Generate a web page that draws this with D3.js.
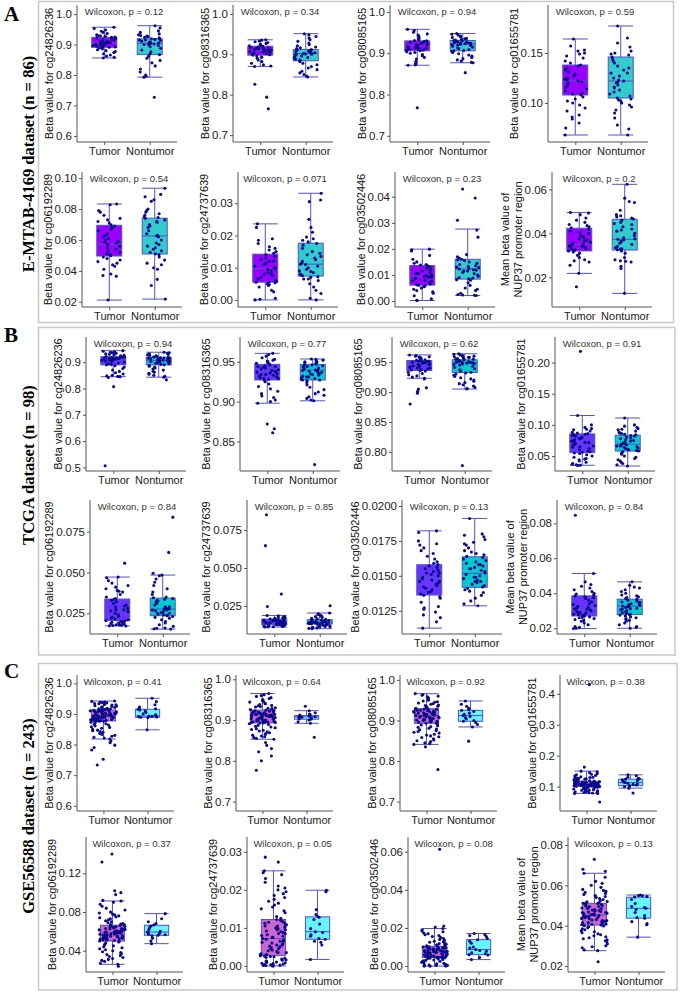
<!DOCTYPE html>
<html><head><meta charset="utf-8">
<script src="https://cdn.jsdelivr.net/npm/d3@7"></script>
<style>body{margin:0;background:#fff} svg{display:block}</style>
</head><body><div id="chart"></div>
<script>
// ---- data ----
const groups = ["Tumor", "Nontumor"];
const probes = ["cg24826236","cg08316365","cg08085165","cg01655781","cg06192289","cg24737639","cg03502446","NUP37"];
const secLetters = ["A", "B", "C"];
const secTitles = ["E-MTAB-4169 dataset (n = 86)", "TCGA dataset (n = 98)", "GSE56588 dataset (n = 243)"];

const pA = ["0.12","0.34","0.94","0.59","0.54","0.071","0.23","0.2"];
const pB = ["0.94","0.77","0.62","0.91","0.84","0.85","0.13","0.84"];
const pC = ["0.41","0.64","0.92","0.38","0.37","0.05","0.08","0.13"];

const domA = [[0.580,1.030],[0.683,1.022],[0.685,1.017],[0.061,0.198],[0.0166,0.104],[-0.0022,0.0397],[-0.0023,0.0495],[0.0065,0.0679]];
const domB = [[0.486,0.996],[0.813,0.981],[0.768,0.992],[0.026,0.241],[0.0123,0.0944],[0.0066,0.0947],[0.01083,0.02043],[0.0167,0.0933]];
const domC = [[0.583,1.027],[0.677,1.0105],[0.677,1.012],[0.021,0.461],[0.018,0.1575],[-0.0016,0.0339],[-0.0031,0.0677],[0.017,0.084]];

const ticksA = [["0.6","0.7","0.8","0.9","1.0"],["0.7","0.8","0.9","1.0"],["0.7","0.8","0.9","1.0"],["0.10","0.15"],
  ["0.02","0.04","0.06","0.08","0.10"],["0.00","0.01","0.02","0.03"],["0.00","0.01","0.02","0.03","0.04"],["0.02","0.04","0.06"]];
const ticksB = [["0.5","0.6","0.7","0.8","0.9"],["0.85","0.90","0.95"],["0.80","0.85","0.90","0.95"],["0.05","0.10","0.15","0.20"],
  ["0.025","0.050","0.075"],["0.025","0.050","0.075"],["0.0125","0.0150","0.0175","0.0200"],["0.02","0.04","0.06","0.08"]];
const ticksC = [["0.6","0.7","0.8","0.9","1.0"],["0.7","0.8","0.9","1.0"],["0.7","0.8","0.9","1.0"],["0.1","0.2","0.3","0.4"],
  ["0.04","0.08","0.12"],["0.00","0.01","0.02","0.03"],["0.00","0.02","0.04","0.06"],["0.02","0.04","0.06","0.08"]];

// box stats: [lower whisker, q1, median, q3, upper whisker]
const boxA_T = [[.856,.891,.906,.924,.957],[.870,.898,.909,.920,.936],[.871,.906,.918,.930,.958],[.068,.108,.122,.138,.164],
  [.0211,.0496,.0572,.0695,.0833],[0,.0055,.0098,.0142,.0236],[.0002,.0061,.0096,.0136,.0199],[.0218,.032,.035,.0423,.0495]];
const boxA_N = [[.793,.867,.904,.919,.962],[.844,.884,.902,.912,.951],[.877,.906,.922,.931,.948],[.068,.105,.122,.146,.177],
  [.0217,.0509,.0626,.0741,.0935],[0,.0074,.0111,.0176,.0331],[.0021,.0084,.0123,.016,.0276],[.0127,.0324,.0373,.0464,.0623]];
const boxB_T = [[.845,.890,.911,.921,.944],[.898,.9271,.9375,.9467,.9605],[.923,.936,.9455,.9527,.962],[.0352,.0555,.0716,.0855,.115],
  [.0173,.0206,.0271,.0337,.0472],[.0112,.0127,.0142,.0164,.0188],[.01125,.01362,.01489,.01579,.01822],[.0198,.027,.0309,.0385,.0513]];
const boxB_N = [[.843,.890,.906,.919,.938],[.901,.9271,.9396,.9467,.9534],[.905,.9326,.9494,.954,.964],[.034,.058,.069,.0834,.111],
  [.0153,.0235,.0276,.0343,.0484],[.0101,.0132,.0142,.016,.0204],[.01285,.01417,.01517,.01636,.01911],[.02,.0278,.0327,.0366,.0465]];
const boxC_T = [[.818,.877,.893,.913,.942],[.853,.893,.912,.9245,.965],[.841,.893,.912,.929,.966],[.078,.100,.108,.117,.150],
  [.0259,.050,.0587,.0663,.0914],[0,.0027,.0072,.0122,.025],[0,.0045,.0074,.0104,.0197],[.0276,.0403,.0453,.0511,.066]];
const boxC_N = [[.848,.889,.893,.915,.951],[.892,.902,.908,.911,.923],[.884,.898,.912,.925,.948],[.095,.103,.113,.124,.138],
  [.0473,.0559,.0593,.0663,.0783],[.0017,.007,.009,.0129,.0199],[.0034,.006,.0087,.0139,.0171],[.0343,.0437,.0486,.0541,.0552]];

const ptsA_T = [
  [.957,.953,.948,.944,.94,.936,.932,.929,.927,.925,.924,.922,.92,.918,.917,.915,.913,.911,.909,.907,.906,.905,.903,.901,.9,.898,.897,.895,.893,.892,.891,.889,.886,.883,.88,.877,.874,.87,.866,.862,.858,.856,.93],
  [.936,.935,.933,.931,.929,.927,.925,.923,.922,.921,.92,.919,.918,.916,.915,.913,.912,.911,.91,.909,.908,.907,.906,.905,.904,.902,.9,.899,.898,.896,.893,.89,.886,.882,.878,.874,.871,.87,.826,.794,.765,.914,.917],
  [.958,.955,.951,.947,.944,.941,.938,.935,.933,.931,.93,.929,.927,.926,.924,.923,.921,.92,.919,.918,.917,.916,.915,.913,.912,.911,.91,.909,.908,.907,.906,.904,.902,.9,.897,.894,.89,.886,.88,.875,.872,.871,.768],
  [.164,.157,.153,.152,.15,.149,.147,.145,.142,.14,.138,.137,.135,.133,.131,.129,.127,.125,.124,.123,.122,.121,.12,.118,.116,.114,.112,.11,.109,.108,.106,.104,.102,.1,.098,.095,.092,.088,.086,.084,.08,.075,.068],
  [.0833,.0828,.079,.078,.076,.074,.073,.072,.071,.0698,.069,.068,.066,.064,.063,.062,.061,.06,.059,.058,.0572,.056,.055,.054,.053,.052,.051,.0505,.0498,.049,.048,.047,.046,.045,.044,.043,.041,.038,.037,.0365,.0211,.067,.0585],
  [.0236,.0225,.019,.0185,.0175,.0165,.016,.0155,.015,.0145,.014,.0135,.013,.0125,.012,.0115,.011,.0105,.01,.0098,.0095,.009,.0085,.008,.0075,.007,.0065,.006,.0058,.0055,.0053,.005,.0048,.0045,.004,.003,.0025,.0005,.0002,0,.012,.008,.0055],
  [.0199,.0196,.0192,.0175,.016,.015,.0145,.014,.0138,.0135,.013,.0125,.012,.0115,.011,.0105,.01,.0098,.0096,.0094,.009,.0088,.0085,.008,.0078,.0075,.007,.0065,.0062,.006,.0058,.0055,.005,.0045,.004,.0035,.003,.002,.0008,.0002,.0003,.0092,.0105],
  [.0495,.0492,.0485,.047,.046,.045,.044,.0435,.043,.0425,.042,.041,.0405,.04,.039,.038,.037,.0365,.036,.0355,.035,.0347,.0343,.034,.0335,.033,.0328,.0325,.0322,.032,.0315,.031,.03,.029,.028,.0275,.027,.0255,.0218,.0157,.0375,.0385,.0338]
];
const ptsA_N = [
  [.962,.955,.945,.94,.935,.932,.93,.928,.926,.924,.922,.92,.919,.917,.915,.913,.911,.909,.907,.905,.904,.902,.9,.897,.893,.888,.882,.876,.87,.867,.862,.855,.848,.84,.83,.82,.81,.8,.796,.793,.727,.9,.915],
  [.951,.948,.944,.94,.936,.932,.928,.924,.921,.918,.916,.914,.912,.911,.91,.908,.907,.905,.904,.903,.902,.901,.9,.898,.896,.894,.892,.89,.888,.886,.884,.882,.878,.874,.87,.866,.862,.858,.854,.85,.846,.844,.9],
  [.948,.946,.944,.942,.94,.938,.936,.934,.932,.931,.93,.929,.928,.927,.926,.925,.924,.923,.922,.921,.92,.919,.917,.915,.913,.911,.909,.907,.906,.904,.902,.899,.896,.893,.89,.887,.884,.881,.878,.877,.853,.935,.925],
  [.177,.165,.16,.156,.152,.15,.149,.148,.146,.144,.14,.137,.135,.133,.13,.127,.125,.123,.122,.121,.12,.118,.116,.113,.111,.109,.107,.105,.104,.103,.102,.1,.098,.096,.093,.09,.085,.078,.074,.068,.13,.142,.115],
  [.0935,.0895,.088,.086,.085,.08,.079,.078,.077,.076,.075,.0745,.074,.073,.072,.07,.069,.068,.066,.064,.063,.0626,.062,.06,.058,.057,.056,.055,.054,.053,.052,.051,.0505,.049,.047,.045,.044,.042,.041,.0345,.0305,.0217,.0715],
  [.0331,.031,.0305,.025,.0225,.021,.0195,.019,.0185,.018,.0175,.017,.016,.015,.0145,.014,.013,.0125,.012,.0115,.0111,.011,.0105,.01,.0095,.009,.0085,.008,.0078,.0075,.0072,.007,.0065,.006,.005,.004,.003,.002,.0005,0,.0135,.0088,.0065],
  [.043,.0395,.031,.0272,.0245,.0178,.017,.0165,.016,.0158,.0155,.015,.0145,.014,.0135,.013,.0128,.0125,.0123,.012,.0118,.0115,.011,.0105,.01,.0095,.009,.0088,.0085,.0082,.008,.007,.006,.005,.0045,.004,.003,.0025,.0023,.0021,.0022,.0133,.0115],
  [.0623,.056,.0545,.054,.0505,.0485,.048,.0475,.047,.0465,.046,.045,.044,.043,.042,.041,.04,.039,.038,.0375,.0373,.037,.0365,.036,.035,.034,.0335,.033,.0328,.0325,.032,.031,.029,.028,.0275,.0273,.027,.025,.024,.0127,.0415,.0355,.0445]
];
const ptsB_T = [
  [.944,.942,.94,.938,.936,.934,.932,.93,.928,.926,.924,.922,.921,.92,.919,.918,.917,.916,.915,.914,.913,.912,.911,.91,.909,.908,.907,.905,.903,.9,.897,.894,.891,.89,.887,.882,.876,.87,.865,.86,.855,.85,.848,.846,.845,.842,.807,.506,.915],
  [.9605,.959,.957,.955,.953,.952,.951,.95,.949,.948,.947,.946,.945,.944,.943,.942,.941,.94,.939,.938,.9375,.937,.936,.935,.934,.933,.932,.931,.93,.929,.928,.927,.925,.922,.919,.916,.913,.91,.907,.905,.902,.9,.898,.872,.866,.861,.944,.934,.929],
  [.962,.961,.96,.959,.958,.957,.956,.955,.954,.953,.952,.951,.95,.949,.948,.947,.946,.9455,.945,.944,.943,.942,.941,.94,.939,.938,.937,.936,.935,.933,.931,.929,.927,.925,.923,.922,.907,.905,.902,.9,.898,.88,.958,.952,.948,.944,.94,.95,.954],
  [.218,.115,.1,.096,.094,.093,.092,.09,.088,.087,.086,.085,.084,.083,.082,.08,.078,.076,.074,.073,.072,.0716,.07,.069,.068,.066,.064,.062,.06,.058,.057,.056,.055,.054,.052,.05,.048,.046,.044,.042,.04,.038,.037,.036,.0352,.035,.078,.065,.045],
  [.0557,.0472,.0468,.045,.0435,.042,.041,.04,.039,.0385,.038,.0365,.035,.034,.0335,.033,.032,.031,.03,.0295,.029,.028,.0275,.0271,.027,.026,.025,.024,.023,.022,.0215,.021,.0205,.0203,.02,.0198,.0195,.019,.0188,.0185,.018,.0178,.0175,.0173,.0172,.0176,.0182,.0225,.0265],
  [.085,.0647,.0329,.0247,.0188,.0185,.018,.0178,.0175,.0172,.017,.0168,.0166,.0164,.0162,.016,.0158,.0156,.0154,.0152,.015,.0148,.0146,.0144,.0142,.014,.0138,.0136,.0134,.0132,.013,.0129,.0128,.0127,.0126,.0125,.0124,.0122,.012,.0118,.0116,.0114,.0112,.0113,.0115,.0139,.0145,.0151,.0131],
  [.01822,.0181,.0175,.0173,.0172,.017,.0168,.0166,.0164,.0162,.016,.0159,.0158,.0157,.0156,.0155,.0154,.0153,.0152,.0151,.015,.0149,.0148,.0147,.0146,.0145,.0144,.0143,.0142,.0141,.014,.0139,.0138,.0137,.0136,.0135,.0134,.0131,.0128,.0127,.0126,.0124,.0122,.012,.0117,.01125,.0152,.0146,.0138],
  [.0846,.0513,.0465,.045,.044,.043,.042,.041,.04,.0395,.039,.0385,.038,.0375,.037,.036,.035,.034,.033,.0325,.032,.0315,.031,.0309,.0305,.03,.0295,.029,.0285,.028,.0278,.0275,.0272,.027,.0265,.026,.0255,.025,.0245,.024,.023,.022,.021,.0205,.02,.0198,.0335,.0288,.0262]
];
const ptsB_N = [
  [.938,.936,.934,.932,.93,.928,.926,.924,.922,.92,.919,.918,.917,.916,.915,.914,.913,.912,.911,.91,.909,.908,.907,.906,.905,.904,.903,.902,.901,.9,.898,.896,.894,.892,.89,.888,.885,.882,.878,.874,.87,.866,.862,.858,.854,.85,.846,.843,.833],
  [.9534,.953,.952,.951,.95,.949,.948,.947,.946,.945,.944,.943,.942,.941,.94,.9396,.939,.938,.937,.936,.935,.934,.933,.932,.931,.93,.929,.928,.927,.926,.924,.921,.918,.915,.912,.91,.908,.906,.904,.902,.901,.821,.944,.938,.931,.927,.95,.946,.935],
  [.964,.963,.962,.961,.96,.959,.958,.957,.956,.955,.954,.953,.952,.951,.95,.9494,.949,.948,.947,.946,.945,.943,.941,.939,.937,.935,.933,.932,.93,.928,.926,.924,.922,.92,.918,.916,.914,.912,.91,.908,.906,.905,.777,.958,.955,.952,.95,.947,.96],
  [.111,.1,.098,.096,.094,.093,.092,.09,.088,.087,.086,.085,.084,.083,.082,.08,.078,.076,.074,.072,.071,.07,.069,.068,.067,.066,.065,.064,.063,.062,.061,.06,.059,.058,.057,.055,.053,.05,.048,.046,.044,.042,.04,.038,.036,.034,.075,.066,.079],
  [.0839,.0623,.0495,.0484,.048,.046,.044,.042,.04,.038,.0365,.035,.0345,.034,.0335,.033,.0325,.032,.031,.03,.029,.0285,.028,.0276,.0275,.027,.0265,.026,.0255,.025,.0245,.024,.0238,.0235,.023,.0225,.022,.021,.02,.019,.018,.017,.016,.0155,.0153,.0158,.027,.029,.025],
  [.0252,.0204,.02,.0195,.019,.0185,.018,.0175,.017,.0166,.0162,.016,.0158,.0156,.0154,.0152,.015,.0148,.0146,.0144,.0142,.0141,.014,.0139,.0138,.0137,.0136,.0135,.0134,.0133,.0132,.0131,.013,.0128,.0126,.0124,.0122,.012,.0118,.0116,.0114,.0112,.011,.0108,.0106,.0103,.0101,.0143,.0137],
  [.01911,.018,.0179,.0178,.0176,.0174,.0173,.0172,.017,.0168,.0167,.0166,.0165,.0164,.0163,.0162,.0161,.016,.0159,.0158,.0157,.0156,.0155,.0154,.0153,.0152,.0151,.015,.0149,.0148,.0147,.0146,.0145,.0144,.0143,.0142,.0141,.014,.0139,.0138,.0136,.0134,.0132,.013,.01285,.0155,.0149,.0158,.0146],
  [.0465,.0445,.0435,.043,.042,.041,.04,.039,.0385,.038,.0375,.037,.0366,.036,.0355,.035,.0345,.034,.0335,.033,.0327,.0325,.032,.0318,.0315,.031,.0305,.03,.0295,.029,.0285,.028,.0278,.0275,.027,.0265,.026,.0255,.025,.0245,.024,.023,.022,.021,.02,.0205,.034,.0312,.0348]
];
const ptsC_T = [
  [.942,.941,.939,.938,.937,.936,.934,.933,.931,.93,.929,.927,.926,.924,.923,.921,.92,.918,.917,.916,.915,.914,
   .913,.912,.911,.911,.91,.909,.908,.907,.907,.906,.905,.904,.903,.903,.902,.901,.9,.899,.899,.898,.897,.896,.895,.895,.894,.893,.893,.892,.891,.89,.889,.889,.888,.887,.886,.885,.885,.884,.883,.882,.881,.881,.88,.879,.878,.878,.877,.877,.876,.875,
   .873,.871,.868,.866,.864,.861,.858,.856,.853,.85,.847,.845,.842,.84,.836,.833,.83,.827,.824,.821,.818,.812,.806,.798,.79,.782,.752,.733],
  [.965,.962,.96,.958,.955,.953,.95,.948,.946,.944,.942,.94,.938,.936,.935,.933,.932,.93,.929,.928,.927,.926,
   .924,.923,.923,.922,.921,.92,.92,.919,.918,.918,.917,.916,.916,.915,.914,.914,.913,.912,.912,.911,.911,.91,.909,.909,.908,.907,.906,.906,.905,.904,.903,.903,.902,.901,.9,.9,.899,.898,.898,.897,.896,.896,.895,.894,.894,.893,.893,.895,.905,.915,
   .891,.889,.887,.885,.883,.881,.879,.877,.875,.873,.871,.869,.867,.865,.863,.861,.859,.857,.855,.853,.845,.838,.83,.822,.812,.8,.777],
  [.966,.964,.962,.96,.958,.956,.954,.952,.95,.948,.946,.945,.943,.941,.94,.938,.937,.935,.934,.932,.931,.93,
   .929,.928,.927,.926,.925,.924,.923,.922,.921,.92,.919,.918,.917,.916,.915,.914,.914,.913,.912,.912,.911,.91,.909,.908,.907,.906,.905,.904,.903,.902,.901,.9,.899,.898,.897,.896,.895,.894,.893,.893,.91,.92,.9,.915,.925,.905,.918,.908,.897,.913,
   .891,.889,.887,.885,.883,.881,.879,.877,.875,.873,.871,.869,.866,.864,.862,.86,.858,.855,.852,.85,.848,.845,.843,.841,.835,.779],
  [.163,.15,.148,.145,.142,.14,.138,.136,.134,.132,.13,.129,.128,.127,.126,.125,.124,.122,.121,.12,.119,.118,
   .117,.117,.116,.116,.115,.115,.114,.114,.113,.113,.112,.112,.111,.111,.11,.11,.109,.109,.108,.108,.108,.107,.107,.106,.106,.105,.105,.104,.104,.103,.103,.102,.102,.101,.101,.1,.1,.11,.112,.106,.104,.108,.113,.115,.109,.107,.111,.103,.105,.1,
   .099,.098,.097,.096,.095,.094,.093,.092,.091,.09,.089,.088,.087,.086,.085,.084,.083,.082,.081,.08,.079,.078,.078,.05,.43],
  [.0914,.09,.088,.086,.084,.082,.08,.079,.078,.077,.076,.075,.074,.073,.072,.071,.07,.069,.068,.0675,.067,.0665,
   .0663,.066,.0655,.065,.0645,.064,.0635,.063,.0625,.062,.0615,.061,.0605,.06,.0595,.059,.0587,.058,.0575,.057,.0565,.056,.0555,.055,.0545,.054,.0535,.053,.0525,.052,.0515,.051,.0505,.05,.058,.06,.062,.055,.053,.057,.059,.061,.064,.052,.054,.056,.063,.065,.051,.0595,
   .0495,.049,.048,.047,.046,.045,.044,.043,.042,.041,.04,.039,.038,.037,.036,.035,.034,.033,.032,.031,.03,.029,.027,.0259,.14,.1317,.102,.1,.098,.092,.024],
  [.025,.0245,.024,.023,.022,.021,.0205,.02,.0195,.019,.0185,.018,.0175,.017,.0165,.016,.0155,.015,.0145,.014,.013,.0125,
   .0122,.012,.0118,.0115,.0112,.011,.0108,.0105,.0102,.01,.0098,.0095,.0092,.009,.0088,.0085,.0082,.008,.0078,.0075,.0072,.007,.0068,.0065,.0062,.006,.0058,.0055,.0052,.005,.0048,.0045,.0042,.004,.0038,.0035,.0032,.003,.0028,.0027,.0105,.0085,.0065,.0045,.0035,.0095,.0075,.0055,.0115,.003,
   .0026,.0025,.0024,.0022,.002,.0018,.0016,.0015,.0013,.0012,.001,.0009,.0008,.0007,.0006,.0005,.0004,.0003,.0002,.0002,.0001,.0001,0,0,.0286,.0273],
  [.0197,.019,.0185,.018,.0175,.017,.0165,.016,.0155,.015,.0145,.014,.0135,.013,.0128,.0125,.012,.0118,.0115,.0112,.011,.0107,
   .0104,.0102,.01,.0098,.0096,.0094,.0092,.009,.0088,.0086,.0084,.0082,.008,.0078,.0076,.0074,.0072,.007,.0068,.0066,.0064,.0062,.006,.0058,.0056,.0054,.0052,.005,.0048,.0046,.0045,.0095,.0085,.0075,.0065,.0055,.0047,.0099,.0089,.0079,.0069,.0059,.0049,.0091,.0081,.0071,.0061,.0051,.0101,.0073,
   .0044,.0042,.004,.0038,.0035,.0032,.003,.0028,.0025,.0022,.002,.0018,.0015,.0012,.001,.0008,.0006,.0005,.0004,.0003,.0002,.0001,0,0,.0613,.021,.0205],
  [.066,.064,.062,.061,.06,.059,.058,.0575,.057,.0565,.056,.0555,.055,.0545,.054,.0535,.053,.0525,.052,.0518,.0515,.0512,
   .0511,.051,.0505,.05,.0498,.0495,.049,.0488,.0485,.048,.0478,.0475,.047,.0468,.0465,.046,.0458,.0455,.0453,.045,.0448,.0445,.044,.0438,.0435,.043,.0428,.0425,.042,.0418,.0415,.041,.0408,.0405,.0403,.0495,.0475,.0455,.0435,.0415,.0485,.0465,.0445,.0425,.0407,.0502,.0462,.0442,.0422,.0472,
   .04,.0398,.0395,.039,.0385,.038,.0375,.037,.0365,.036,.0355,.035,.0345,.034,.0335,.033,.0325,.032,.031,.03,.0295,.029,.028,.0276,.0729,.068,.067,.0221]
];
const ptsC_N = [
  [.951,.94,.93,.922,.917,.915,.913,.91,.905,.9,.897,.895,.893,.892,.891,.89,.889,.888,.848],
  [.934,.923,.918,.915,.913,.912,.911,.91,.909,.908,.907,.906,.905,.903,.902,.9,.896,.892,.858],
  [.948,.94,.935,.93,.927,.925,.922,.918,.915,.912,.91,.907,.904,.9,.898,.895,.89,.884,.849],
  [.138,.135,.13,.127,.125,.124,.122,.12,.117,.115,.113,.111,.109,.107,.105,.103,.1,.095,.079],
  [.0783,.073,.07,.068,.0665,.0655,.064,.062,.06,.0593,.059,.058,.057,.0565,.056,.0555,.053,.05,.0473],
  [.0199,.0195,.0148,.0135,.013,.0128,.0122,.011,.0098,.009,.0088,.0082,.0078,.0072,.007,.0065,.0062,.0055,.0017],
  [.0171,.0165,.016,.0155,.0145,.0138,.013,.012,.01,.0095,.0087,.0082,.0078,.007,.0065,.006,.0058,.0045,.0034],
  [.0552,.055,.0548,.0545,.0542,.053,.051,.0495,.049,.0486,.048,.0465,.045,.044,.0437,.042,.041,.0405,.0343]
];

// ---- layout / style ----
const W = 680, H = 992;
const sections = [
  {p: pA, dom: domA, ticks: ticksA, box: [boxA_T, boxA_N], pts: [ptsA_T, ptsA_N], fill: ["#9900ff", "#33cccc"],
   tops: [5, 172], bots: [142, 307], ax: [[77,233,390,548],[82,238,395,552]], L: 100, frame: [38.5,1.5,673.5,322.5], letterY: 21, titleY: 164, jit: [0.25,0.25]},
  {p: pB, dom: domB, ticks: ticksB, box: [boxB_T, boxB_N], pts: [ptsB_T, ptsB_N], fill: ["#6633ff", "#00cccc"],
   tops: [337, 500], bots: [471, 634], ax: [[86,240,392,555],[90,247,402,557]], L: 100, frame: [38.5,327.5,675,655], letterY: 342, titleY: 465, jit: [0.25,0.25]},
  {p: pC, dom: domC, ticks: ticksC, box: [boxC_T, boxC_N], pts: [ptsC_T, ptsC_N], fill: ["#cc66cc", "#66f4ff"],
   tops: [675, 837], bots: [811, 972], ax: [[77,236,400,560],[86,247,408,568]], L: 97, frame: [38.5,663.5,677,990], letterY: 678, titleY: 816, jit: [0.3,0.22]}
];
const lineCol = "#5252c4", ptCol = "#0a0a8c", axisCol = "#555";
const FONT = "Arial, 'Liberation Sans', sans-serif";
const SERIF = "'Times New Roman', 'Liberation Serif', serif";

// deterministic horizontal jitter (position only)
const jitter = (i, k, gi) => {
  const v = Math.sin((i + 1) * 12.9898 + k * 78.233 + gi * 37.719) * 43758.5453;
  return (v - Math.floor(v)) - 0.5;
};

const svg = d3.select("#chart").append("svg").attr("width", W).attr("height", H);

sections.forEach((s, si) => {
  const f = s.frame;
  svg.append("rect").attr("x", f[0]).attr("y", f[1]).attr("width", f[2] - f[0]).attr("height", f[3] - f[1])
    .attr("fill", "none").attr("stroke", "#c8c8c8").attr("stroke-width", 1.5);
  svg.append("text").attr("x", 4).attr("y", s.letterY).text(secLetters[si])
    .attr("font-family", SERIF).attr("font-weight", "bold").attr("font-size", 21).attr("fill", "#000");
  svg.append("text").attr("transform", `translate(28,${s.titleY}) rotate(-90)`)
    .attr("text-anchor", "middle").attr("dominant-baseline", "central").text(secTitles[si])
    .attr("font-family", SERIF).attr("font-weight", "bold").attr("font-size", 16.5).attr("fill", "#000");

  for (let k = 0; k < 8; k++) {
    const row = Math.floor(k / 4), col = k % 4;
    const x0 = s.ax[row][col], top = s.tops[row], bot = s.bots[row], L = s.L;
    const g = svg.append("g");
    const y = d3.scaleLinear().domain(s.dom[k]).range([bot, top]);
    const x = d3.scaleLinear().domain([0.4, 2.6]).range([x0, x0 + L]);
    const bw = x(0.55) - x(0);

    // boxes
    [0, 1].forEach(gi => {
      const [lo, q1, md, q3, hi] = s.box[gi][k];
      const cx = x(gi + 1);
      const bg = g.append("g").attr("stroke", lineCol).attr("stroke-width", 1);
      bg.append("line").attr("x1", cx).attr("x2", cx).attr("y1", y(hi)).attr("y2", y(q3));
      bg.append("line").attr("x1", cx).attr("x2", cx).attr("y1", y(q1)).attr("y2", y(lo));
      bg.append("line").attr("x1", cx - bw / 2).attr("x2", cx + bw / 2).attr("y1", y(hi)).attr("y2", y(hi));
      bg.append("line").attr("x1", cx - bw / 2).attr("x2", cx + bw / 2).attr("y1", y(lo)).attr("y2", y(lo));
      bg.append("rect").attr("x", cx - bw / 2).attr("y", y(q3)).attr("width", bw).attr("height", y(q1) - y(q3))
        .attr("fill", s.fill[gi]);
      bg.append("line").attr("x1", cx - bw / 2).attr("x2", cx + bw / 2).attr("y1", y(md)).attr("y2", y(md));
    });
    // jittered points
    [0, 1].forEach(gi => {
      const jw = s.jit[gi];
      g.append("g").selectAll("circle").data(s.pts[gi][k]).join("circle")
        .attr("cx", (d, i) => x(gi + 1 + jitter(i, k, gi) * 2 * jw))
        .attr("cy", d => y(d)).attr("r", 1.55).attr("fill", ptCol);
    });

    // axes
    const tv = s.ticks[k];
    const ya = g.append("g").attr("transform", `translate(${x0},0)`)
      .call(d3.axisLeft(y).tickValues(tv.map(Number)).tickFormat((d, i) => tv[i]).tickSize(3).tickSizeOuter(0).tickPadding(2));
    const xa = g.append("g").attr("transform", `translate(0,${bot})`)
      .call(d3.axisBottom(x).tickValues([1, 2]).tickFormat((d, i) => groups[i]).tickSize(3).tickSizeOuter(0).tickPadding(2));
    ya.attr("font-family", FONT).attr("font-size", 11.5);
    xa.attr("font-family", FONT).attr("font-size", 11);
    [ya, xa].forEach(a => {
      a.selectAll("path,line").attr("stroke", axisCol);
      a.selectAll("text").attr("fill", "#222");
    });
    ya.select(".domain").attr("d", `M0,${bot}V${top}`);
    xa.select(".domain").attr("d", `M${x0},0H${x0 + L}`);

    // y title
    const bb = ya.node().getBBox();
    const tx = x0 + bb.x - 7, ty = (top + bot) / 2;
    if (k < 7) {
      g.append("text").attr("transform", `translate(${tx},${ty}) rotate(-90)`).attr("text-anchor", "middle")
        .attr("dominant-baseline", "central").attr("font-family", FONT).attr("font-size", 11).attr("fill", "#111")
        .text("Beta value for " + probes[k]);
    } else {
      const t = g.append("text").attr("transform", `translate(${tx},${ty}) rotate(-90)`).attr("text-anchor", "middle")
        .attr("font-family", FONT).attr("font-size", 11).attr("fill", "#111");
      t.append("tspan").attr("x", 0).attr("y", -9).text("Mean beta value of");
      t.append("tspan").attr("x", 0).attr("y", 4).text("NUP37 promoter region");
    }
    // test label
    g.append("text").attr("x", x0 + 0.47 * L).attr("y", top + 10).attr("text-anchor", "middle")
      .attr("font-family", FONT).attr("font-size", 9.5).attr("fill", "#333")
      .text("Wilcoxon, p = " + s.p[k]);
  }
});
</script>
</body></html>
